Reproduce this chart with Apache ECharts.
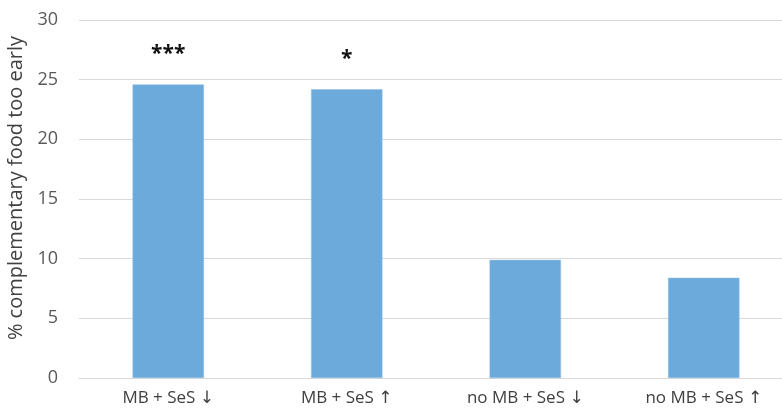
<!DOCTYPE html>
<html><head><meta charset="utf-8">
<script src="https://cdn.jsdelivr.net/npm/echarts@6/dist/echarts.min.js"></script>
<style>html,body{margin:0;padding:0;background:#fff}#c{width:782px;height:414px}</style>
</head><body><div id="c"></div>
<script>
const categories = ["MB + SeS ↓", "MB + SeS ↑", "no MB + SeS ↓", "no MB + SeS ↑"];
const values = [24.6, 24.2, 9.9, 8.4];
const significance = ["***", "*", "", ""];
const yTicks = [0, 5, 10, 15, 20, 25, 30];

const chart = echarts.init(document.getElementById('c'));
chart.setOption({
  animation: false,
  textStyle: { fontFamily: "Open Sans, DejaVu Sans, sans-serif" },
  grid: { left: 79, top: 20, width: 714, bottom: 36, outerBoundsMode: 'none', containLabel: false },
  xAxis: {
    type: 'category', data: categories,
    axisLine: { lineStyle: { color: '#d9d9d9' } },
    axisTick: { show: false },
    axisLabel: { color: '#404040', fontSize: 17, margin: 12, fontFamily: "Open Sans, DejaVu Sans, sans-serif" }
  },
  yAxis: {
    type: 'value', min: 0, max: 30, interval: 5,
    name: '% complementary food too early', nameLocation: 'middle', nameGap: 48,
    nameTextStyle: { color: '#404040', fontSize: 20, padding: [0, 0, 0, 22] },
    axisLabel: { color: '#595959', fontSize: 18, margin: 21, formatter: v => yTicks.includes(v) ? String(v) : '' },
    splitLine: { lineStyle: { color: '#d9d9d9' } },
    axisLine: { show: false }, axisTick: { show: false }
  },
  series: [{
    type: 'bar', data: values, barWidth: '40%',
    itemStyle: { color: '#6CAADC', borderColor: '#8fbfe6', borderWidth: 0.5 },
    label: {
      show: true, position: 'top', distance: 20,
      formatter: p => significance[p.dataIndex],
      color: '#111', fontSize: 21, fontWeight: 'bold'
    }
  }]
});
</script></body></html>
